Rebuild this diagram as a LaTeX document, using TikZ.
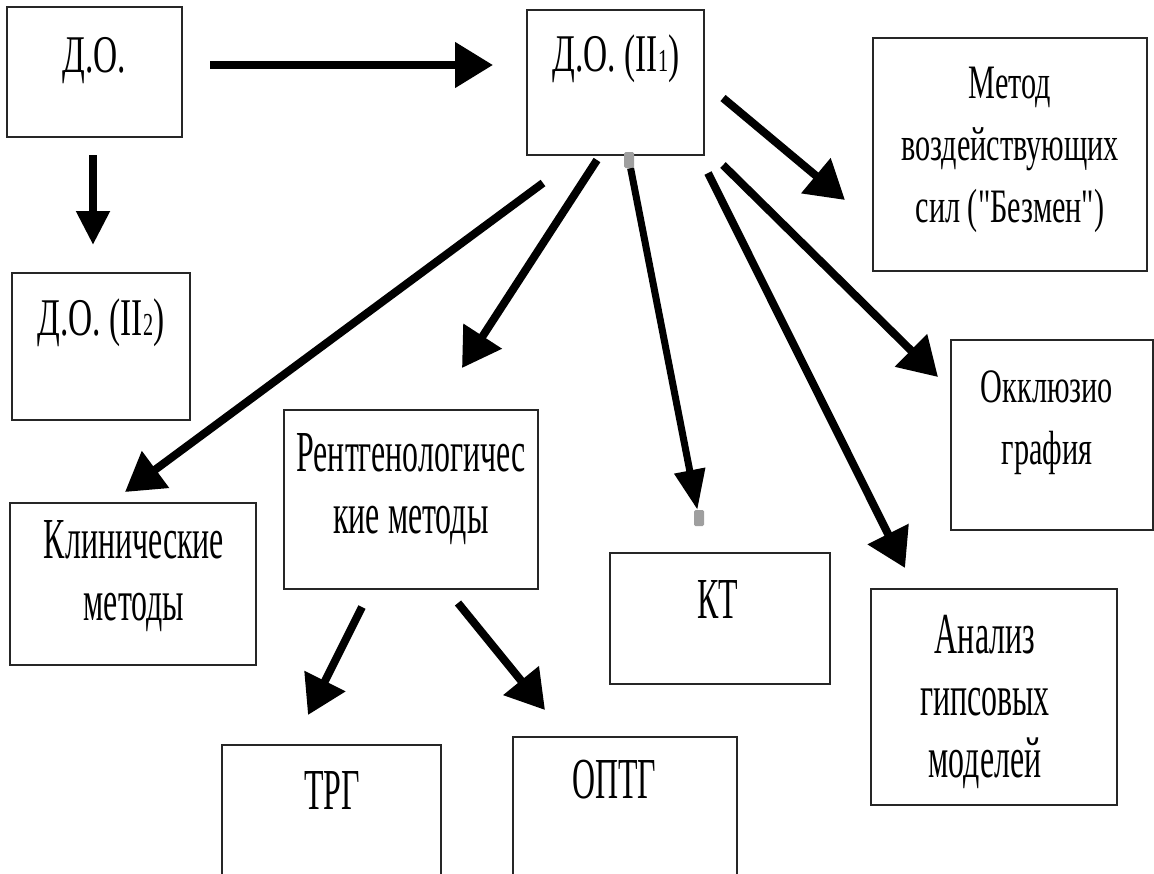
\documentclass[tikz,border=0pt]{standalone}
\usepackage{fontspec}
\setmainfont{Liberation Serif}[FakeStretch=0.55]
\newfontfamily\wfont{Liberation Serif}[FakeStretch=0.63]
\usetikzlibrary{arrows.meta}

\begin{document}
\begin{tikzpicture}[x=1pt, y=-1pt]
\tikzstyle{box} = [draw=black!85, line width=1.6pt, inner sep=0pt]
\tikzstyle{txt} = [align=center, inner sep=0pt, font=\fontsize{58}{62}\selectfont]
\tikzstyle{big} = [font=\wfont\fontsize{53}{60}\selectfont]
\tikzstyle{wide} = [font=\wfont\fontsize{48}{62}\selectfont]
\tikzstyle{arr} = [line width=8pt, -{Triangle[length=38pt,width=44pt]}]
\tikzstyle{handle} = [fill=gray!75, rounded corners=1.5pt, minimum width=10pt, minimum height=16pt, inner sep=0pt]
\useasboundingbox (0,0) rectangle (1154,873);
\clip (0,0) rectangle (1154,873);
% boxes
\node[box, minimum width=175pt, minimum height=130pt] (do) at (94.5,72) {};
\node[box, minimum width=177pt, minimum height=145pt] (do1) at (615.5,82.5) {};
\node[box, minimum width=274pt, minimum height=233pt] (metod) at (1010,154.5) {};
\node[box, minimum width=178pt, minimum height=147pt] (do2) at (101,346.5) {};
\node[box, minimum width=202pt, minimum height=190pt] (okkl) at (1052,435) {};
\node[box, minimum width=246pt, minimum height=162pt] (klin) at (133,584) {};
\node[box, minimum width=254pt, minimum height=179pt] (rent) at (411,499.5) {};
\node[box, minimum width=220pt, minimum height=131pt] (kt) at (720,618.5) {};
\node[box, minimum width=246pt, minimum height=216pt] (anal) at (994,697) {};
\node[box, minimum width=219pt, minimum height=155pt] (trg) at (331.5,822.5) {};
\node[box, minimum width=224pt, minimum height=163pt] (optg) at (625,818.5) {};
% texts
\node[txt, big] (doT) at (94.5,61) {Д.О.};
\node[txt, big] (do1T) at (616,59) {Д.О. (II{\fontsize{32}{32}\selectfont 1})};
\node[txt, big] (do2T) at (101,323) {Д.О. (II{\fontsize{32}{32}\selectfont 2})};
\node[txt, wide] (metodT) at (1010,150) {Метод\\воздействующих\\сил ("Безмен")};
\node[txt, wide] (okklT) at (1047,423) {Окклюзио\\графия};
\node[txt] (klinT) at (134,576) {Клинические\\методы};
\node[txt] (rentT) at (411,489) {Рентгенологичес\\кие методы};
\node[txt] (ktT) at (718,600) {КТ};
\node[txt] (analT) at (985,702) {Анализ\\гипсовых\\моделей};
\node[txt] (trgT) at (332,790) {ТРГ};
\node[txt] (optgT) at (614,780) {ОПТГ};
% arrow ends
\coordinate (s1) at (210,65);  \coordinate (t1) at (493,65);
\coordinate (s2) at (93,155);  \coordinate (t2) at (93,245);
\coordinate (s3) at (543,183); \coordinate (t3) at (125,492);
\coordinate (s4) at (597,160); \coordinate (t4) at (462,368);
\coordinate (s6) at (708,173); \coordinate (t6) at (905,568);
\coordinate (s7) at (723,165); \coordinate (t7) at (938,377);
\coordinate (s8) at (723,98);  \coordinate (t8) at (845,200);
\coordinate (s9) at (362,607); \coordinate (t9) at (308,715);
\coordinate (s10) at (458,603); \coordinate (t10) at (545,710);
\node[handle] (h1) at (629,160) {};
\node[handle] (h2) at (699,518) {};
% arrows
\draw[arr] (s1) -- (t1);
\draw[arr, -{Triangle[length=34pt,width=32pt]}] (s2) -- (t2);
\draw[arr] (s3) -- (t3);
\draw[arr] (s4) -- (t4);
\draw[arr, line width=7pt, -{Triangle[length=40pt,width=30pt]}] (h1) -- (h2);
\draw[arr] (s6) -- (t6);
\draw[arr] (s7) -- (t7);
\draw[arr] (s8) -- (t8);
\draw[arr] (s9) -- (t9);
\draw[arr] (s10) -- (t10);
\end{tikzpicture}
\end{document}
